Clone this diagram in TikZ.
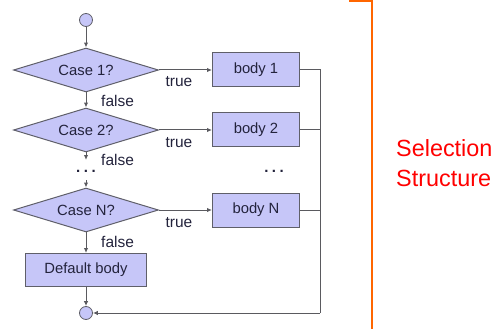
\documentclass[tikz,border=0pt]{standalone}
\usepackage{fontspec}
\setmainfont{Liberation Sans}
\usetikzlibrary{shapes.geometric,arrows.meta}
\definecolor{boxfill}{RGB}{198,198,248}
\definecolor{boxline}{RGB}{95,95,105}
\definecolor{flowline}{RGB}{90,90,95}
\definecolor{boxtext}{RGB}{35,35,60}
\definecolor{bracket}{RGB}{255,102,0}
\definecolor{titlered}{RGB}{255,0,0}
\tikzset{
  every node/.style={font=\fontsize{14.8}{16}\selectfont, text=boxtext},
  decision/.style={diamond, draw=boxline, fill=boxfill, line width=1pt,
    minimum width=145pt, minimum height=44pt, inner sep=0pt, aspect=3.3},
  bodybox/.style={rectangle, draw=boxline, fill=boxfill, line width=1pt,
    minimum width=87pt, minimum height=34pt, inner sep=0pt},
  terminal/.style={circle, draw=boxline, fill=boxfill, line width=0.8pt,
    minimum size=13pt, inner sep=0pt},
  flow/.style={draw=flowline, line width=1pt},
  flowarrow/.style={flow, -{Latex[length=5pt,width=4.5pt]}},
  lbl/.style={font=\fontsize{15.5}{17}\selectfont, text=boxtext, inner sep=0pt},
  dots/.style={font=\fontsize{15}{17}\selectfont\bfseries, text=boxtext, inner sep=0pt}
}
\begin{document}
\begin{tikzpicture}[x=1pt, y=-1pt]
\useasboundingbox (0,0) rectangle (496,329);

% terminals
\node[terminal] (start) at (86,20) {};
\node[terminal] (end) at (86,313) {};

% decisions
\node[decision] (d1) at (86,70) {Case 1?};
\node[decision] (d2) at (86,130) {Case 2?};
\node[decision] (dN) at (86,210) {Case N?};
\node[bodybox, minimum width=121pt, minimum height=33pt] (dflt) at (86,270) {Default body};

% bodies
\node[bodybox] (b1) at (256,70) {body 1};
\node[bodybox] (b2) at (256,130) {body 2};
\node[bodybox] (bN) at (256,210) {body N};

% ellipses
\node[dots] (ldots) at (86,171) {.\kern3.5pt.\kern3.5pt.};
\node[dots] (rdots) at (274,171) {.\kern3.5pt.\kern3.5pt.};
\coordinate (gapTop) at (86,160);
\coordinate (gapBot) at (86,180);

% joining column
\coordinate (j1) at (320,70);
\coordinate (j2) at (320,130);
\coordinate (jN) at (320,210);
\coordinate (jEnd) at (320,313);

% down the false branch
\draw[flowarrow] (start) -- (d1);
\draw[flowarrow] (d1) -- (d2);
\draw[flowarrow] (d2) -- (gapTop);
\draw[flowarrow] (gapBot) -- (dN);
\draw[flowarrow] (dN) -- (dflt);
\draw[flowarrow] (dflt) -- (end);

% true branches
\draw[flowarrow] (d1.east) -- (b1.west);
\draw[flowarrow] (d2.east) -- (b2.west);
\draw[flowarrow] (dN.east) -- (bN.west);

% merge back
\draw[flow] (b1.east) -- (j1) -- (jEnd);
\draw[flow] (b2.east) -- (j2);
\draw[flow] (bN.east) -- (jN);
\draw[flowarrow] (jEnd) -- (end.east);

% labels
\node[lbl, anchor=west] at (101,101) {false};
\node[lbl, anchor=west] at (101,160) {false};
\node[lbl, anchor=west] at (101,242) {false};
\node[lbl] at (179,82) {true};
\node[lbl] at (179,143) {true};
\node[lbl] at (179,223) {true};

% orange bracket
\coordinate (brA) at (349,0.8);
\coordinate (brB) at (372,0.8);
\coordinate (brC) at (372,329);
\draw[bracket, line width=2.2pt] (brA) -- (brB) -- (brC);

% title
\node[anchor=base west, text=titlered, font=\fontsize{23.4}{29}\selectfont, inner sep=0pt] (t1) at (396,157) {Selection};
\node[anchor=base west, text=titlered, font=\fontsize{23.4}{29}\selectfont, inner sep=0pt] (t2) at (396,186) {Structure};
\end{tikzpicture}
\end{document}
